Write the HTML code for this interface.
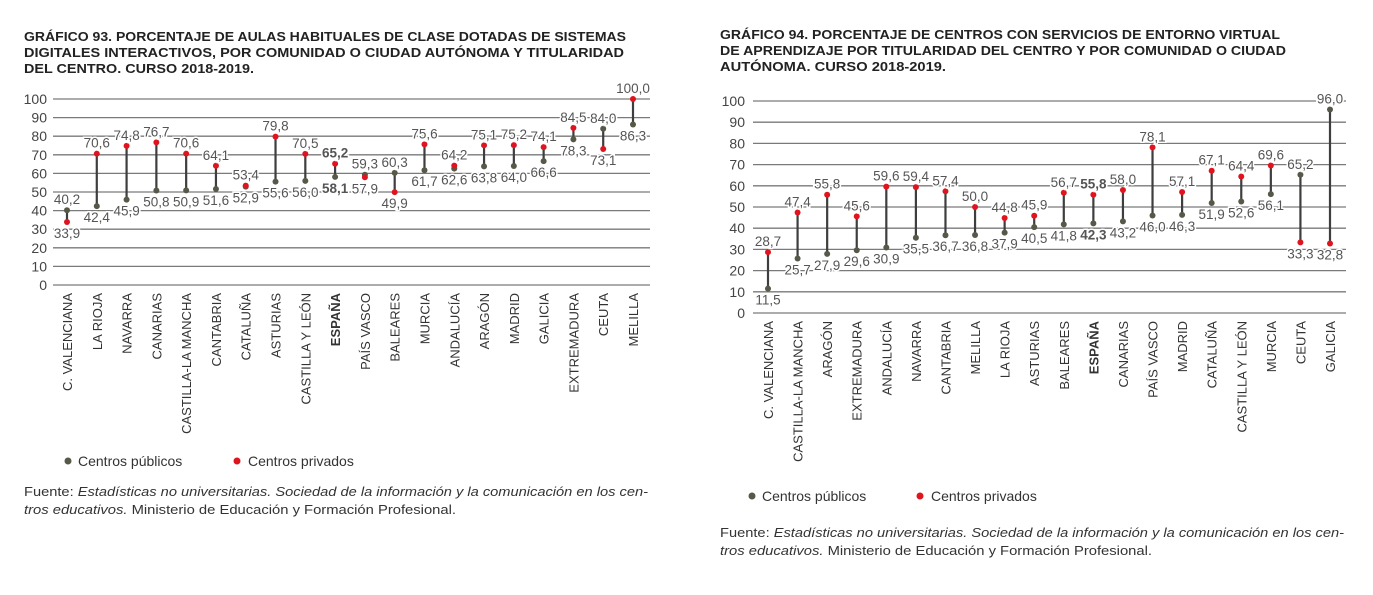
<!DOCTYPE html>
<html><head><meta charset="utf-8"><style>
body{margin:0;background:#fff}
svg{display:block;font-family:"Liberation Sans",sans-serif}
</style></head><body>
<svg id="c" width="1373" height="595" viewBox="0 0 1373 595">
<g font-weight="bold" font-size="12.5" fill="#222">
<text x="24" y="41" textLength="602" lengthAdjust="spacingAndGlyphs">GRÁFICO 93. PORCENTAJE DE AULAS HABITUALES DE CLASE DOTADAS DE SISTEMAS</text>
<text x="24" y="57" textLength="600" lengthAdjust="spacingAndGlyphs">DIGITALES INTERACTIVOS, POR COMUNIDAD O CIUDAD AUTÓNOMA Y TITULARIDAD</text>
<text x="24" y="73" textLength="230" lengthAdjust="spacingAndGlyphs">DEL CENTRO. CURSO 2018-2019.</text>
</g>
<g font-weight="bold" font-size="12.5" fill="#222">
<text x="720" y="39" textLength="560" lengthAdjust="spacingAndGlyphs">GRÁFICO 94. PORCENTAJE DE CENTROS CON SERVICIOS DE ENTORNO VIRTUAL</text>
<text x="720" y="55" textLength="566" lengthAdjust="spacingAndGlyphs">DE APRENDIZAJE POR TITULARIDAD DEL CENTRO Y POR COMUNIDAD O CIUDAD</text>
<text x="720" y="71" textLength="226" lengthAdjust="spacingAndGlyphs">AUTÓNOMA. CURSO 2018-2019.</text>
</g>
<g font-size="14" fill="#333">
<circle cx="68" cy="461" r="3.5" fill="#555947"/><text x="78" y="466">Centros públicos</text>
<circle cx="237" cy="461" r="3.5" fill="#e0141e"/><text x="248" y="466">Centros privados</text>
</g>
<g font-size="14" fill="#333">
<circle cx="752" cy="496" r="3.5" fill="#555947"/><text x="762" y="501">Centros públicos</text>
<circle cx="920" cy="496" r="3.5" fill="#e0141e"/><text x="931" y="501">Centros privados</text>
</g>
<g font-size="13" fill="#333">
<text x="24" y="496" textLength="624" lengthAdjust="spacingAndGlyphs">Fuente: <tspan font-style="italic">Estadísticas no universitarias. Sociedad de la información y la comunicación en los cen-</tspan></text>
<text x="24" y="514" textLength="432" lengthAdjust="spacingAndGlyphs"><tspan font-style="italic">tros educativos.</tspan> Ministerio de Educación y Formación Profesional.</text>
</g>
<g font-size="13" fill="#333">
<text x="720" y="537" textLength="624" lengthAdjust="spacingAndGlyphs">Fuente: <tspan font-style="italic">Estadísticas no universitarias. Sociedad de la información y la comunicación en los cen-</tspan></text>
<text x="720" y="555" textLength="432" lengthAdjust="spacingAndGlyphs"><tspan font-style="italic">tros educativos.</tspan> Ministerio de Educación y Formación Profesional.</text>
</g>
</svg>
<script>
const cats93 = ["C. VALENCIANA","LA RIOJA","NAVARRA","CANARIAS","CASTILLA-LA MANCHA","CANTABRIA","CATALUÑA","ASTURIAS","CASTILLA Y LEÓN","ESPAÑA","PAÍS VASCO","BALEARES","MURCIA","ANDALUCÍA","ARAGÓN","MADRID","GALICIA","EXTREMADURA","CEUTA","MELILLA"];
const pub93 = [40.2,42.4,45.9,50.8,50.9,51.6,52.9,55.6,56.0,58.1,59.3,60.3,61.7,62.6,63.8,64.0,66.6,78.3,84.0,86.3];
const priv93 = [33.9,70.6,74.8,76.7,70.6,64.1,53.4,79.8,70.5,65.2,57.9,49.9,75.6,64.2,75.1,75.2,74.1,84.5,73.1,100.0];
const cats94 = ["C. VALENCIANA","CASTILLA-LA MANCHA","ARAGÓN","EXTREMADURA","ANDALUCÍA","NAVARRA","CANTABRIA","MELILLA","LA RIOJA","ASTURIAS","BALEARES","ESPAÑA","CANARIAS","PAÍS VASCO","MADRID","CATALUÑA","CASTILLA Y LEÓN","MURCIA","CEUTA","GALICIA"];
const pub94 = [11.5,25.7,27.9,29.6,30.9,35.5,36.7,36.8,37.9,40.5,41.8,42.3,43.2,46.0,46.3,51.9,52.6,56.1,65.2,96.0];
const priv94 = [28.7,47.4,55.8,45.6,59.6,59.4,57.4,50.0,44.8,45.9,56.7,55.8,58.0,78.1,57.1,67.1,64.4,69.6,33.3,32.8];
const yTicks = [0,10,20,30,40,50,60,70,80,90,100];

const NS="http://www.w3.org/2000/svg";
const svg=document.getElementById('c');
function mk(tag,attrs,parent){const e=document.createElementNS(NS,tag);for(const k in attrs)e.setAttribute(k,attrs[k]);(parent||svg).appendChild(e);return e;}
const fmt=v=>v.toFixed(1).replace('.',',');

function chart(id,cats,pub,priv,cfg){
  const g=mk('g',{});
  
  
  const y=v=>cfg.y0-(v/100)*(cfg.y0-cfg.y100);
  const x=i=>cfg.x0+i*(cfg.x1-cfg.x0)/(cats.length-1);
  yTicks.forEach(t=>{
    const l=mk('line',{x1:cfg.gx0,x2:cfg.gx1,y1:y(t),y2:y(t),stroke:'#7a7a7a','stroke-width':1.3},g);
    
    
    const tx=mk('text',{x:cfg.tx,y:y(t)+5,'text-anchor':'end','font-size':14,fill:'#444'},g);
    tx.textContent=t;
    
    
  });
  cats.forEach((c,i)=>{
    const cx=x(i);
    const lt=mk('text',{transform:`translate(${cx+5},${cfg.ly}) rotate(-90)`,'text-anchor':'end','font-size':13,fill:'#333','font-weight':c==='ESPAÑA'?'bold':'normal'},g);
    lt.textContent=c;
    
    
    const a=pub[i],b=priv[i];
    const ln=mk('line',{x1:cx,x2:cx,y1:y(a),y2:y(b),stroke:'#3e3e3e','stroke-width':2.2},g);
    
    
    const d1=mk('circle',{cx:cx,cy:y(a),r:3,fill:'#555947'},g);
    
    
    const d2=mk('circle',{cx:cx,cy:y(b),r:3,fill:'#e0141e'},g);
    
    
    const hi=Math.max(a,b),lo=Math.min(a,b);
    const bold=c==='ESPAÑA'?'bold':'normal';
    const t1=mk('text',{x:cx,y:y(hi)-6,'text-anchor':'middle','font-size':13.5,fill:'#555','font-weight':bold,stroke:'#fff','stroke-width':3,'paint-order':'stroke'},g);
    t1.textContent=fmt(hi);
    
    
    const t2=mk('text',{x:cx,y:y(lo)+16,'text-anchor':'middle','font-size':13.5,fill:'#555','font-weight':bold,stroke:'#fff','stroke-width':3,'paint-order':'stroke'},g);
    t2.textContent=fmt(lo);
    
    
  });
}
chart('chart-93',cats93,pub93,priv93,{y0:285,y100:99,x0:67,x1:633,gx0:53,gx1:650,tx:47,ly:293});
chart('chart-94',cats94,pub94,priv94,{y0:313,y100:101,x0:768,x1:1330,gx0:753,gx1:1346,tx:745,ly:321});
</script>
</body></html>
